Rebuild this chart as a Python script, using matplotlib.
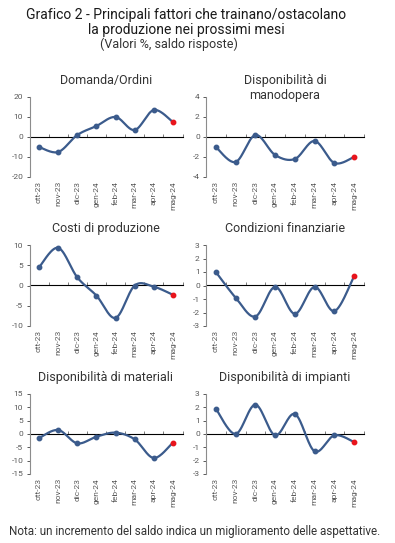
import numpy as np
import matplotlib
matplotlib.use("Agg")
import matplotlib.pyplot as plt

plt.rcParams['font.family'] = ['Roboto', 'DejaVu Sans']

# dati (valori %, saldo risposte)
mesi = ["ott-23", "nov-23", "dic-23", "gen-24", "feb-24", "mar-24", "apr-24", "mag-24"]

domanda = [-5, -7.5, 1, 5.5, 10, 3.5, 13.5, 7.5]
manodopera = [-1, -2.5, 0.2, -1.8, -2.2, -0.4, -2.6, -2]
costi = [4.5, 9.3, 2, -2.5, -8, 0, -0.3, -2.3]
condizioni = [1, -0.9, -2.3, -0.1, -2.1, -0.1, -1.9, 0.7]
materiali = [-1.5, 1.5, -3.5, -1, 0.5, -2, -9, -3.2]
impianti = [1.9, 0, 2.2, -0.1, 1.5, -1.3, -0.1, -0.6]

titoli = ["Domanda/Ordini", "Disponibilità di\nmanodopera", "Costi di produzione",
          "Condizioni finanziarie", "Disponibilità di materiali", "Disponibilità di impianti"]
serie = [domanda, manodopera, costi, condizioni, materiali, impianti]
limiti = [20, 4, 10, 3, 15, 3]
passi = [10, 2, 5, 1, 5, 1]

BLU = "#3b5b8c"
ROSSO = "#e8141c"
GRIGIO = "#595959"

W, H = 395, 543
fig = plt.figure(figsize=(W / 100, H / 100), dpi=100)


def smooth(y, n=30):
    # linea smussata stile Excel (Catmull-Rom)
    y = np.asarray(y, float)
    x = np.arange(len(y), dtype=float)
    xs, ys = [], []
    for i in range(len(y) - 1):
        i0, i3 = max(i - 1, 0), min(i + 2, len(y) - 1)
        p1 = np.array([x[i], y[i]])
        p2 = np.array([x[i + 1], y[i + 1]])
        c1 = p1 + (p2 - np.array([x[i0], y[i0]])) / 6
        c2 = p2 - (np.array([x[i3], y[i3]]) - p1) / 6
        t = np.linspace(0, 1, n)[:, None]
        b = (1 - t) ** 3 * p1 + 3 * (1 - t) ** 2 * t * c1 + 3 * (1 - t) * t ** 2 * c2 + t ** 3 * p2
        xs.extend(b[:, 0]); ys.extend(b[:, 1])
    return xs, ys


# posizioni in pixel (x0, x1, y0, y1)
box = [(29.5, 182.5, 97, 177), (206, 364, 97, 177),
       (29.5, 182.5, 245, 326), (206, 364, 245, 326),
       (29.5, 182.5, 394, 474), (206, 364, 394, 474)]
title_y = [80, 88, 229, 229, 377, 377]

for k in range(6):
    x0, x1, y0, y1 = box[k]
    ax = fig.add_axes([x0 / W, 1 - y1 / H, (x1 - x0) / W, (y1 - y0) / H])
    y = serie[k]
    xs, ys = smooth(y)
    ax.plot(xs, ys, color=BLU, lw=1.6, solid_capstyle="round", zorder=3)
    ax.plot(range(len(y) - 1), y[:-1], "o", color=BLU, ms=3.2, zorder=4)
    ax.plot([len(y) - 1], [y[-1]], "o", color=ROSSO, ms=3.2, zorder=5)

    lim = limiti[k]
    ax.set_ylim(-lim, lim)
    ax.set_xlim(-0.5, len(mesi) - 0.5)
    ax.set_yticks(np.arange(-lim, lim + 0.1, passi[k]))
    ax.set_yticklabels([f"{v:g}" for v in np.arange(-lim, lim + 0.1, passi[k])])
    ax.set_xticks(range(len(mesi)))
    ax.set_xticklabels(mesi, rotation=90)
    ax.tick_params(axis="x", length=0, labelsize=6, colors=GRIGIO, pad=3)
    ax.tick_params(axis="y", length=2.5, width=0.7, labelsize=6, colors=GRIGIO, pad=2)
    for s in ["top", "right", "bottom"]:
        ax.spines[s].set_visible(False)
    ax.spines["left"].set_color("#8c8c8c")
    ax.spines["left"].set_linewidth(0.8)

    # asse dello zero con tacche
    sec = ax.secondary_xaxis(0.5)
    sec.set_xticks(np.arange(-0.5, len(mesi), 1.0))
    sec.set_xticklabels([])
    sec.tick_params(length=2.5, width=0.7, colors="#7a7a7a", direction="out")
    sec.spines["bottom"].set_color("#7a7a7a")
    sec.spines["bottom"].set_linewidth(0.9)
    ax.set_facecolor("none")

    fig.text((x0 + x1) / 2 / W, 1 - title_y[k] / H, titoli[k], ha="center", va="center",
             fontsize=9, color="#333333", linespacing=1.15)

fig.text(186 / W, 1 - 15 / H, "Grafico 2 - Principali fattori che trainano/ostacolano",
         ha="center", va="center", fontsize=10, color="#1a1a1a")
fig.text(186 / W, 1 - 30 / H, "la produzione nei prossimi mesi",
         ha="center", va="center", fontsize=10, color="#1a1a1a")
fig.text(169 / W, 1 - 44 / H, "(Valori %, saldo risposte)",
         ha="center", va="center", fontsize=9, color="#333333")

fig.text(9 / W, 1 - 531 / H,
         "Nota: un incremento del saldo indica un miglioramento delle aspettative.",
         ha="left", va="center", fontsize=8.4, color="#333333")

fig.savefig("out.png", dpi=100, facecolor="white")
